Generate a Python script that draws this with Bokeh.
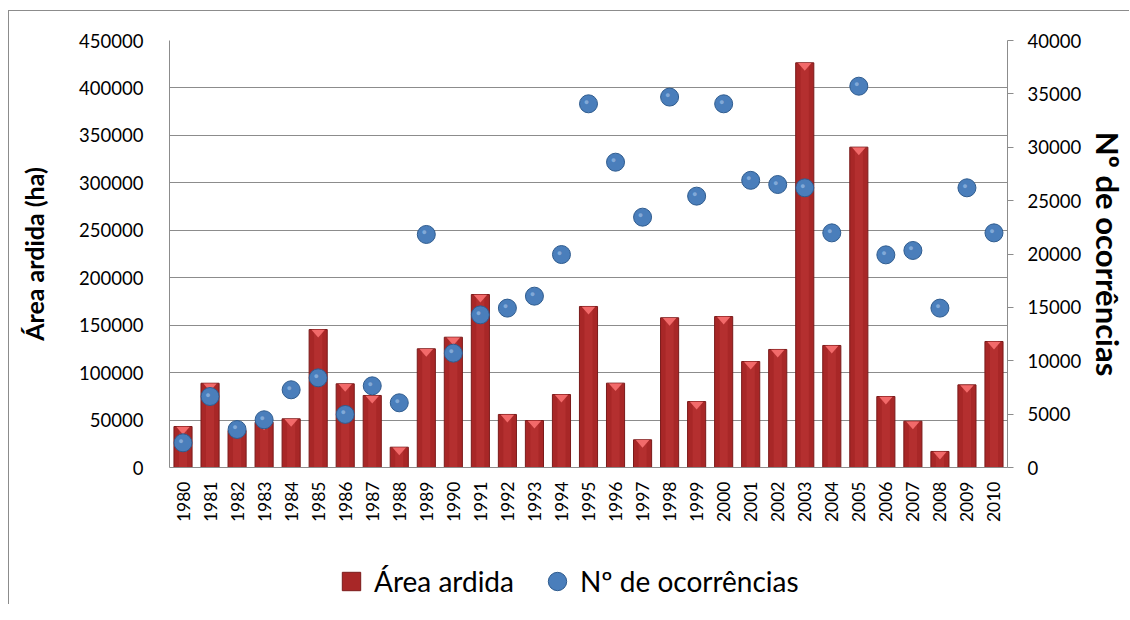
import math
from bokeh.plotting import figure
from bokeh.layouts import column
from bokeh.models import (Range1d, LinearAxis, SingleIntervalTicker, FixedTicker,
                          NumeralTickFormatter, Legend, LegendItem, ColumnDataSource)
from bokeh.core.properties import value
from bokeh.embed import file_html
from bokeh.resources import INLINE

years = [str(y) for y in range(1980, 2011)]
area_ardida = [43200, 88800, 39000, 47700, 51300, 145400, 88200, 75900, 21400, 125100,
               137300, 182300, 55900, 49500, 76900, 169700, 88900, 29200, 157800, 69500,
               159100, 111700, 124400, 426500, 128600, 337600, 74800, 48800, 16900, 87100,
               132800]
ocorrencias = [2310, 6650, 3560, 4470, 7280, 8400, 4970, 7650, 6060, 21830,
               10710, 14300, 14930, 16050, 19950, 34070, 28600, 23450, 34700, 25420,
               34070, 26900, 26510, 26200, 21980, 35720, 19920, 20330, 14930, 26200,
               21980]
series_names = ["Área ardida", "Nº de ocorrências"]
left_max = 450000
left_step = 50000
right_max = 40000
right_step = 5000

FONT = "Lato"
GRAY = "#8c8c8c"
BAR_FILL = "#A82727"
BAR_LINE = "#7A1A1A"
BALL_FILL = "#4A7EBB"
BALL_LINE = "#2F5C8F"

idx = list(range(len(years)))
src = ColumnDataSource(dict(x=idx, area=area_ardida, occ=ocorrencias))

p = figure(width=1121, height=526, output_backend="svg", toolbar_location=None,
           x_range=Range1d(-0.5, len(years) - 0.5), y_range=Range1d(0, left_max),
           min_border_left=160, min_border_right=117, min_border_top=29,
           min_border_bottom=70)
p.styles = {"border-left": "1px solid #8c8c8c", "border-top": "1px solid #8c8c8c",
            "margin-left": "8px", "margin-top": "10px"}
p.outline_line_color = None
p.background_fill_color = "white"
p.extra_y_ranges = {"occ": Range1d(0, right_max)}

# bars
bars = p.vbar(x="x", top="area", width=0.67, source=src, fill_color=BAR_FILL,
              line_color=BAR_LINE, line_width=1)
p.vbar(x="x", top="area", width=0.3, source=src, fill_color="#BE3636",
       fill_alpha=0.55, line_color=None)
tri_xs = [[i - 0.25, i + 0.25, i] for i in idx]
tri_ys = [[v - 300, v - 300, v - 8400] for v in area_ardida]
p.patches(tri_xs, tri_ys, fill_color="#F26A6A", line_color=None)

# balls
balls = p.scatter(x="x", y="occ", source=src, y_range_name="occ", marker="circle",
                  size=18, fill_color=BALL_FILL, line_color=BALL_LINE, line_width=1)
p.text(x="x", y="occ", source=src, y_range_name="occ", text=value("●"),
       x_offset=-2, y_offset=-2, text_color="#A8C7EC", text_alpha=0.6,
       text_font_size="9px", text_align="center", text_baseline="middle")

# axes
p.xaxis.ticker = FixedTicker(ticks=idx)
p.xaxis.major_label_overrides = {i: y for i, y in zip(idx, years)}
p.xaxis.major_label_orientation = math.pi / 2
p.xaxis.major_tick_line_color = None
p.xaxis.minor_tick_line_color = None
p.xaxis.major_label_standoff = 8
p.xaxis.axis_line_color = GRAY
p.xaxis.major_label_text_font = FONT
p.xaxis.major_label_text_font_size = "17.5px"
p.xaxis.major_label_text_color = "black"
p.xgrid.grid_line_color = None

p.yaxis.ticker = SingleIntervalTicker(interval=left_step)
p.yaxis.formatter = NumeralTickFormatter(format="0")
p.yaxis.major_tick_line_color = None
p.yaxis.minor_tick_line_color = None
p.yaxis.major_label_standoff = 20
p.yaxis.axis_line_color = GRAY
p.yaxis.major_label_text_font = FONT
p.yaxis.major_label_text_font_size = "18.5px"
p.yaxis.major_label_text_color = "black"
p.yaxis.axis_label = "Área ardida (ha)"
p.yaxis.axis_label_text_font = FONT
p.yaxis.axis_label_text_font_style = "bold"
p.yaxis.axis_label_text_font_size = "25px"
p.yaxis.axis_label_text_color = "black"
p.yaxis.axis_label_standoff = 27
p.ygrid.grid_line_color = GRAY
p.ygrid.ticker = SingleIntervalTicker(interval=left_step)

raxis = LinearAxis(y_range_name="occ", ticker=SingleIntervalTicker(interval=right_step),
                   formatter=NumeralTickFormatter(format="0"))
raxis.major_tick_in = 0
raxis.major_tick_out = 6
raxis.major_tick_line_color = GRAY
raxis.minor_tick_line_color = None
raxis.major_label_standoff = 14
raxis.axis_line_color = GRAY
raxis.major_label_text_font = FONT
raxis.major_label_text_font_size = "18.5px"
raxis.major_label_text_color = "black"
raxis.axis_label = "Nº de ocorrências"
raxis.axis_label_text_font = FONT
raxis.axis_label_text_font_style = "bold"
raxis.axis_label_text_font_size = "31px"
raxis.axis_label_text_color = "black"
raxis.axis_label_standoff = 5
p.add_layout(raxis, "right")

# legend strip (separate canvas below the chart)
lg = figure(width=1121, height=68, output_backend="svg", toolbar_location=None,
            x_range=Range1d(0, 1), y_range=Range1d(0, 1),
            x_axis_location=None, y_axis_location=None, min_border=0)
lg.styles = {"border-left": "1px solid #8c8c8c", "margin-left": "8px"}
lg.outline_line_color = None
lg.xgrid.grid_line_color = None
lg.ygrid.grid_line_color = None
# legend-only renderers: the series values fall outside this strip's 0..1 range,
# so only their legend swatches are drawn
leg_bar = lg.scatter(x=idx, y=area_ardida, marker="square",
                     fill_color=BAR_FILL, line_color=BAR_LINE)
leg_ball = lg.scatter(x=idx, y=ocorrencias, marker="circle",
                      fill_color=BALL_FILL, line_color=BALL_LINE)

legend = Legend(items=[LegendItem(label=series_names[0], renderers=[leg_bar]),
                       LegendItem(label=series_names[1], renderers=[leg_ball])],
                orientation="horizontal", location=(159, 0))
legend.label_text_font = FONT
legend.label_text_font_size = "28px"
legend.label_text_color = "black"
legend.glyph_width = 46
legend.glyph_height = 46
legend.label_standoff = 0
legend.spacing = 20
legend.padding = 0
legend.margin = 0
legend.border_line_color = None
legend.background_fill_color = None
lg.add_layout(legend, "center")

layout = column(p, lg, spacing=0)
open("out.html", "w").write(file_html(layout, INLINE))
